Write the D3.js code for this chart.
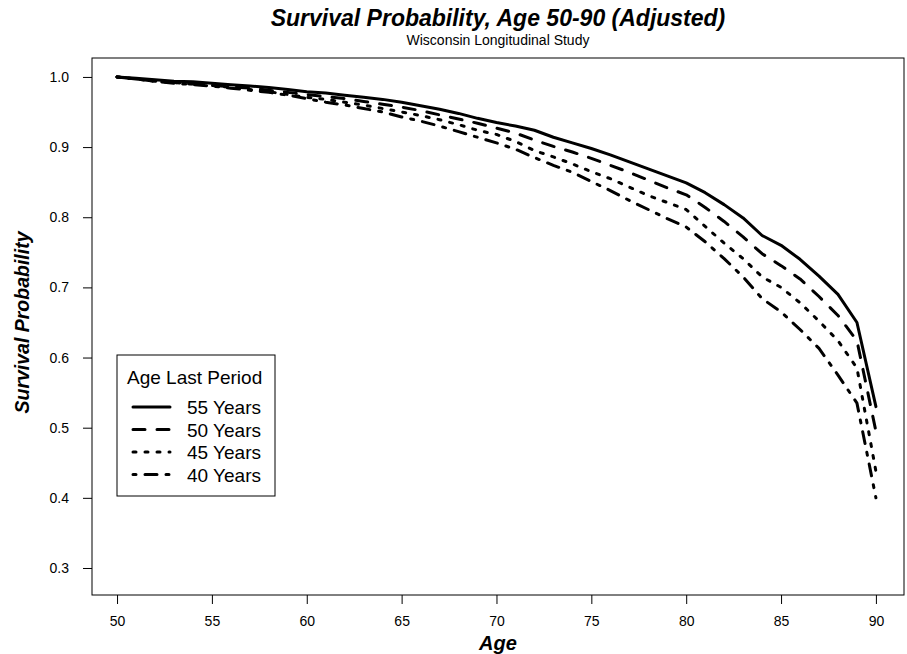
<!DOCTYPE html>
<html>
<head>
<meta charset="utf-8">
<script src="https://cdn.jsdelivr.net/npm/d3@7"></script>
<style>
  html, body { margin: 0; padding: 0; background: #fff; }
  svg { display: block; font-family: "Liberation Sans", Arial, Helvetica, sans-serif; }
</style>
</head>
<body>
<svg id="chart" width="907" height="654"></svg>
<script>
const ages = d3.range(50, 91);
const seriesNames = ["55 Years", "50 Years", "45 Years", "40 Years"];
const s55 = [1.000,0.998,0.996,0.994,0.993,0.991,0.989,0.987,0.985,0.982,0.979,0.977,0.974,0.971,0.968,0.964,0.959,0.954,0.948,0.941,0.935,0.930,0.924,0.914,0.906,0.898,0.889,0.879,0.869,0.859,0.849,0.835,0.818,0.799,0.774,0.760,0.740,0.716,0.690,0.650,0.530];
const s50 = [1.000,0.997,0.994,0.992,0.990,0.988,0.986,0.984,0.981,0.978,0.975,0.972,0.969,0.965,0.961,0.957,0.952,0.946,0.940,0.934,0.927,0.920,0.910,0.901,0.893,0.884,0.874,0.864,0.853,0.842,0.832,0.814,0.794,0.772,0.748,0.731,0.712,0.687,0.660,0.624,0.495];
const s45 = [1.000,0.997,0.994,0.992,0.990,0.988,0.985,0.982,0.979,0.975,0.971,0.968,0.964,0.960,0.955,0.950,0.945,0.939,0.932,0.924,0.918,0.908,0.895,0.886,0.876,0.865,0.855,0.843,0.831,0.821,0.811,0.787,0.763,0.741,0.715,0.700,0.678,0.652,0.624,0.585,0.438];
const s40 = [1.000,0.997,0.994,0.991,0.989,0.987,0.984,0.981,0.978,0.974,0.969,0.964,0.960,0.955,0.950,0.943,0.937,0.930,0.922,0.914,0.906,0.897,0.885,0.874,0.864,0.851,0.838,0.824,0.811,0.798,0.786,0.765,0.741,0.715,0.684,0.665,0.640,0.613,0.575,0.535,0.400];
const xTicks = [50, 55, 60, 65, 70, 75, 80, 85, 90];
const yTicks = [0.3, 0.4, 0.5, 0.6, 0.7, 0.8, 0.9, 1.0];

const allSeries = [s55, s50, s45, s40];
const dashes = [null, "12,12", "3,9", "3,9,12,9"];

const svg = d3.select("#chart");
const box = { left: 92, right: 904, top: 58, bottom: 595 };

const x = d3.scaleLinear().domain([48.68, 91.48]).range([box.left, box.right]);
const y = d3.scaleLinear().domain([0.2615, 1.027]).range([box.bottom, box.top]);

// Title
svg.append("text").attr("x", (box.left + box.right) / 2).attr("y", 26)
  .attr("text-anchor", "middle").attr("font-size", 23).attr("font-weight", "bold").attr("font-style", "italic")
  .text("Survival Probability, Age 50-90 (Adjusted)");
svg.append("text").attr("x", (box.left + box.right) / 2).attr("y", 45)
  .attr("text-anchor", "middle").attr("font-size", 14)
  .text("Wisconsin Longitudinal Study");

// Axes
const xAxis = svg.append("g").attr("transform", `translate(0,${box.bottom})`)
  .call(d3.axisBottom(x).tickValues(xTicks).tickSize(9).tickPadding(12).tickFormat(d3.format("d")));
const yAxis = svg.append("g").attr("transform", `translate(${box.left},0)`)
  .call(d3.axisLeft(y).tickValues(yTicks).tickSize(9).tickPadding(14).tickFormat(d3.format(".1f")));
[xAxis, yAxis].forEach(g => {
  g.select(".domain").remove();
  g.selectAll("text").attr("font-size", 14).attr("font-family", "Liberation Sans, Arial, sans-serif").attr("fill", "#000");
  g.selectAll("line").attr("stroke", "#000");
});

// Box
svg.append("rect").attr("x", box.left).attr("y", box.top)
  .attr("width", box.right - box.left).attr("height", box.bottom - box.top)
  .attr("fill", "none").attr("stroke", "#000").attr("stroke-width", 1);

// Axis titles
svg.append("text").attr("x", (box.left + box.right) / 2).attr("y", 650)
  .attr("text-anchor", "middle").attr("font-size", 20).attr("font-weight", "bold").attr("font-style", "italic")
  .text("Age");
svg.append("text").attr("transform", `translate(29,${(box.top + box.bottom) / 2 - 4}) rotate(-90)`)
  .attr("text-anchor", "middle").attr("font-size", 19.5).attr("font-weight", "bold").attr("font-style", "italic")
  .text("Survival Probability");

// Lines
const line = d3.line().x((d, i) => x(ages[i])).y(d => y(d));
allSeries.forEach((s, k) => {
  svg.append("path").datum(s).attr("d", line)
    .attr("fill", "none").attr("stroke", "#000").attr("stroke-width", 3)
    .attr("stroke-linecap", "round").attr("stroke-linejoin", "round")
    .attr("stroke-dasharray", dashes[k]);
});

// Legend
const lg = svg.append("g");
lg.append("rect").attr("x", 117).attr("y", 355).attr("width", 158).attr("height", 141)
  .attr("fill", "#fff").attr("stroke", "#000").attr("stroke-width", 1);
lg.append("text").attr("x", 127).attr("y", 384).attr("font-size", 19).text("Age Last Period");
seriesNames.forEach((name, k) => {
  const yy = 407 + k * 22.5;
  lg.append("line").attr("x1", 133).attr("x2", 170).attr("y1", yy).attr("y2", yy)
    .attr("stroke", "#000").attr("stroke-width", 3).attr("stroke-linecap", "round")
    .attr("stroke-dasharray", dashes[k]);
  lg.append("text").attr("x", 187).attr("y", yy + 7).attr("font-size", 19).text(name);
});
</script>
</body>
</html>
